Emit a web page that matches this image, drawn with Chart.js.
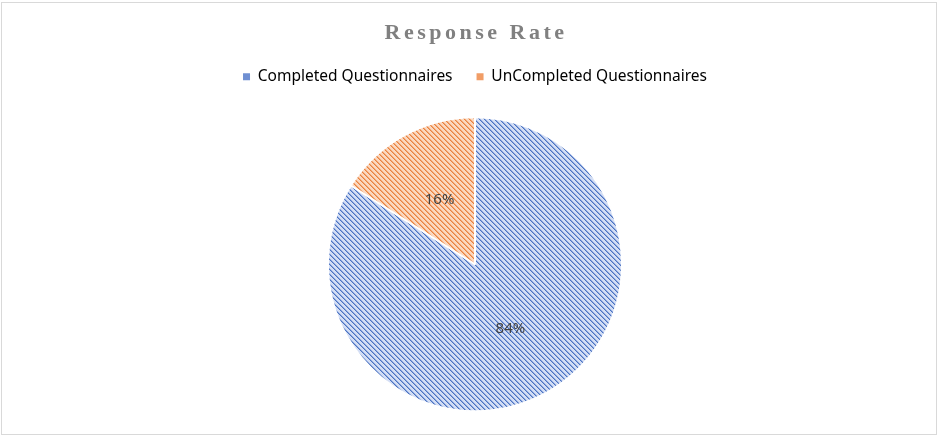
<!DOCTYPE html>
<html>
<head>
<meta charset="utf-8">
<script src="https://cdn.jsdelivr.net/npm/chart.js@4.4.1/dist/chart.umd.min.js"></script>
<style>
  html, body { margin: 0; padding: 0; background: #ffffff; }
  canvas { display: block; }
</style>
</head>
<body>
<canvas id="c" width="938" height="448"></canvas>
<script>
const chartTitle = "Response Rate";
const categories = ["Completed Questionnaires", "UnCompleted Questionnaires"];
const values = [84, 16];
const percentLabels = ["84%", "16%"];

function makePattern(light, mid, dark) {
  const size = 10;
  const c = document.createElement('canvas');
  c.width = size; c.height = size;
  const g = c.getContext('2d');
  g.fillStyle = light;
  g.fillRect(0, 0, size, size);
  for (let y = 0; y < size; y++) {
    for (let x = 0; x < size; x++) {
      const m = (((x - y) % 5) + 5) % 5;
      if (m === 0) { g.fillStyle = dark; g.fillRect(x, y, 1, 1); }
      else if (m === 1) { g.fillStyle = mid; g.fillRect(x, y, 1, 1); }
    }
  }
  return g.createPattern(c, 'repeat');
}

const ctx0 = document.getElementById('c').getContext('2d');
const bluePat = makePattern('#d3def5', '#8ea8dd', '#4a72c2');
const orangePat = makePattern('#fbd8bf', '#f2a878', '#e9823e');
const legendColors = ['#6f8fd2', '#f19d66'];

const framePlugin = {
  id: 'frame',
  beforeDraw(chart) {
    const ctx = chart.ctx;
    ctx.save();
    ctx.fillStyle = '#ffffff';
    ctx.fillRect(0, 0, chart.width, chart.height);
    ctx.strokeStyle = '#d9d9d9';
    ctx.lineWidth = 1;
    ctx.strokeRect(1.5, 2.5, 935, 432);
    ctx.restore();
  },
  afterDraw(chart) {
    const ctx = chart.ctx;
    ctx.save();
    ctx.font = 'bold 22px "Liberation Serif", "Times New Roman", serif';
    ctx.fillStyle = '#808080';
    ctx.textAlign = 'center';
    ctx.textBaseline = 'middle';
    try { ctx.letterSpacing = '3.5px'; } catch (e) {}
    ctx.fillText(chartTitle, 476, 33);
    try { ctx.letterSpacing = '0px'; } catch (e) {}
    const meta = chart.getDatasetMeta(0);
    ctx.font = '15px "Noto Sans", "Open Sans", sans-serif';
    ctx.fillStyle = '#404040';
    meta.data.forEach((arc, i) => {
      const p = arc.tooltipPosition();
      ctx.fillText(percentLabels[i], p.x, p.y);
    });
    ctx.restore();
  }
};

new Chart(ctx0, {
  type: 'pie',
  data: {
    labels: categories,
    datasets: [{
      data: values,
      backgroundColor: [bluePat, orangePat],
      borderColor: '#ffffff',
      borderWidth: 2,
      radius: 147
    }]
  },
  options: {
    responsive: false,
    animation: false,
    devicePixelRatio: 1,
    layout: { padding: { top: 45, bottom: 14, left: 12, right: 0 } },
    plugins: {
      title: { display: false },
      tooltip: { enabled: false },
      legend: {
        position: 'top',
        labels: {
          boxWidth: 7,
          boxHeight: 7,
          padding: 24,
          color: '#595959',
          font: { family: '"Noto Sans", "Open Sans", sans-serif', size: 15.5 },
          generateLabels(chart) {
            return categories.map((t, i) => ({
              text: t,
              fillStyle: legendColors[i],
              strokeStyle: legendColors[i],
              lineWidth: 0,
              hidden: false,
              index: i
            }));
          }
        }
      }
    }
  },
  plugins: [framePlugin]
});
</script>
</body>
</html>
